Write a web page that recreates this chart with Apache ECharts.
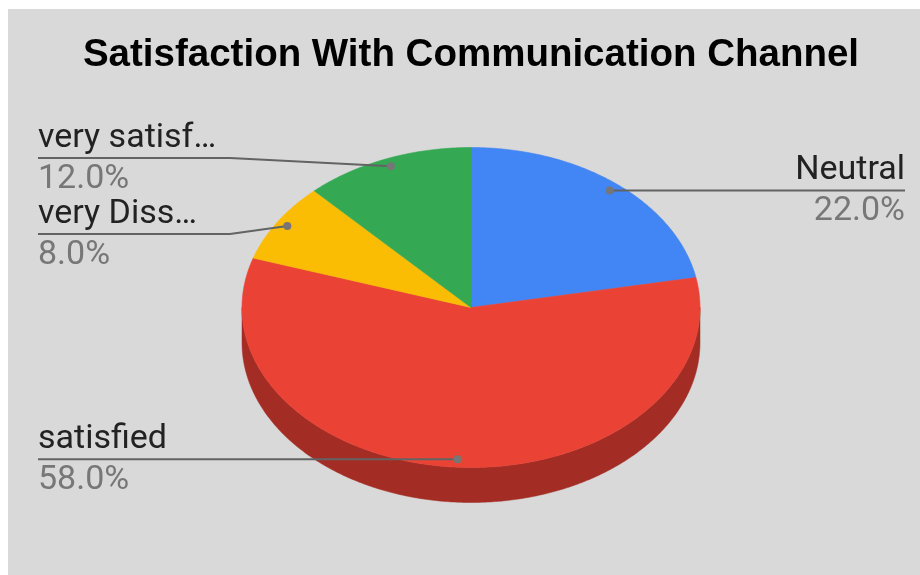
<!DOCTYPE html>
<html><head><meta charset="utf-8">
<script src="https://cdn.jsdelivr.net/npm/echarts@6/dist/echarts.min.js"></script>
<style>html,body{margin:0;padding:0;background:#fff;}#c{width:920px;height:575px;}</style>
</head><body><div id="c"></div>
<script>
const chartTitle = 'Satisfaction With Communication Channel';
const categories = ['Neutral', 'satisfied', 'very Diss\u2026', 'very satisf\u2026'];
const values = [22, 58, 8, 12];
const colors = ['#4285f4', '#ea4335', '#fbbc04', '#34a853'];
const sideColors = ['#2f5fb3', '#a32d24', '#b58800', '#247a3c'];

const CX = 471, CY = 307.5, RX = 229, RY = 160, DEPTH = 35;
const total = values.reduce((a, b) => a + b, 0);
const starts = [], ends = [];
(function () { let acc = 0; values.forEach(v => { starts.push(acc / total * 2 * Math.PI); acc += v; ends.push(acc / total * 2 * Math.PI); }); })();

function pt(th, f, dy) { return [CX + RX * f * Math.sin(th), CY - RY * f * Math.cos(th) + (dy || 0)]; }
function arc(a, b, dy) {
  const n = Math.max(2, Math.ceil(Math.abs(b - a) / (Math.PI / 360)));
  const out = [];
  for (let i = 0; i <= n; i++) out.push(pt(a + (b - a) * i / n, 1, dy));
  return out;
}

// label layout
const GAP = 76;
const labelInfo = values.map((v, i) => {
  const mid = (starts[i] + ends[i]) / 2;
  const dot = pt(mid, 0.95);
  return { i, mid, dot, side: Math.sin(mid) >= 0 ? 'right' : 'left', ly: dot[1] };
});
['left', 'right'].forEach(side => {
  const arr = labelInfo.filter(l => l.side === side).sort((a, b) => a.dot[1] - b.dot[1]);
  for (let it = 0; it < 50; it++) {
    for (let k = 0; k < arr.length - 1; k++) {
      const d = arr[k + 1].ly - arr[k].ly;
      if (d < GAP) { const m = (GAP - d) / 2; arr[k].ly -= m; arr[k + 1].ly += m; }
    }
  }
});

const chart = echarts.init(document.getElementById('c'));
const seriesData = values.map((v, i) => ({ value: v, name: categories[i] }));

function renderSide(params, api) {
  const i = params.dataIndex;
  const lo = Math.max(starts[i], Math.PI / 2), hi = Math.min(ends[i], Math.PI * 1.5);
  if (lo >= hi) return null;
  const pts = arc(lo, hi, 0).concat(arc(hi, lo, DEPTH));
  return { type: 'polygon', shape: { points: pts }, style: { fill: sideColors[i], stroke: sideColors[i], lineWidth: 0.5 } };
}
function renderTop(params, api) {
  const i = params.dataIndex;
  const pts = [[CX, CY]].concat(arc(starts[i], ends[i], 0));
  return { type: 'polygon', shape: { points: pts }, style: { fill: colors[i], stroke: colors[i], lineWidth: 0.6 } };
}
function renderLabel(params, api) {
  const i = params.dataIndex;
  const L = labelInfo.find(l => l.i === i);
  const v = api.value(0);
  const pct = (v / total * 100).toFixed(1) + '%';
  const font = '34px Roboto';
  let linePts, tx, align;
  if (L.side === 'left') {
    tx = 38; align = 'left';
    linePts = Math.abs(L.ly - L.dot[1]) < 0.5 ? [[38, L.ly], [L.dot[0], L.dot[1]]] : [[38, L.ly], [230, L.ly], [L.dot[0], L.dot[1]]];
  } else {
    tx = 905; align = 'right';
    linePts = Math.abs(L.ly - L.dot[1]) < 0.5 ? [[905, L.ly], [L.dot[0], L.dot[1]]] : [[905, L.ly], [690, L.ly], [L.dot[0], L.dot[1]]];
  }
  return {
    type: 'group',
    children: [
      { type: 'polyline', shape: { points: linePts }, style: { stroke: '#636363', lineWidth: 2, fill: null } },
      { type: 'circle', shape: { cx: L.dot[0], cy: L.dot[1], r: 4 }, style: { fill: '#767676' } },
      { type: 'text', style: { text: categories[i], x: tx, y: L.ly - 19.5, font: font, fill: '#222222', align: align, verticalAlign: 'middle' } },
      { type: 'text', style: { text: pct, x: tx, y: L.ly + 21, font: font, fill: '#777777', align: align, verticalAlign: 'middle' } }
    ]
  };
}

chart.setOption({
  animation: false,
  backgroundColor: '#ffffff',
  graphic: [
    { type: 'rect', shape: { x: 8, y: 9, width: 912, height: 566 }, style: { fill: '#d9d9d9' }, z: -10, silent: true },
    { type: 'text', style: { text: chartTitle, x: 471, y: 55, align: 'center', verticalAlign: 'middle', font: 'bold 38.5px "Liberation Sans"', fill: '#000000' }, z: 10, silent: true }
  ],
  series: [
    { type: 'custom', coordinateSystem: 'none', renderItem: renderSide, data: seriesData, z: 1 },
    { type: 'custom', coordinateSystem: 'none', renderItem: renderTop, data: seriesData, z: 2 },
    { type: 'custom', coordinateSystem: 'none', renderItem: renderLabel, data: seriesData, z: 3 }
  ]
});
</script></body></html>
